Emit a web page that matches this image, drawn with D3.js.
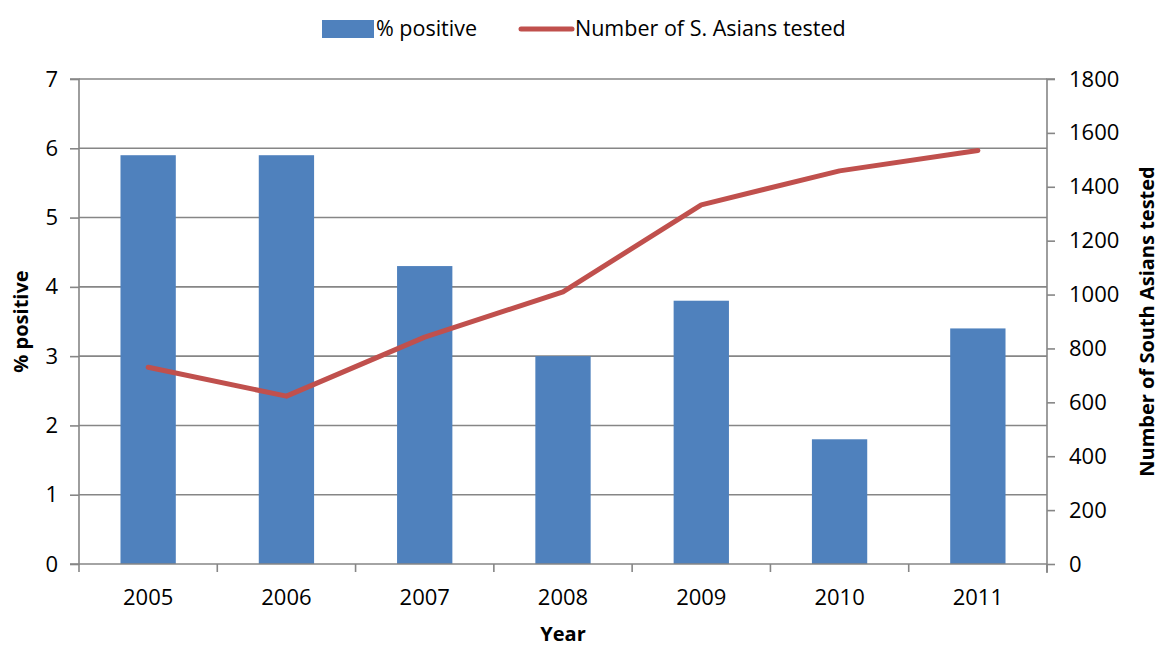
<!DOCTYPE html>
<html>
<head>
<meta charset="utf-8">
<script src="https://cdn.jsdelivr.net/npm/d3@7"></script>
<style>
  html, body { margin: 0; padding: 0; background: #fff; }
  svg { display: block; font-family: "Open Sans", sans-serif; }
</style>
</head>
<body>
<svg id="chart" width="1159" height="646"></svg>
<script>
// Yearly screening data
const years = ["2005", "2006", "2007", "2008", "2009", "2010", "2011"];
const pctPositive = [5.9, 5.9, 4.3, 3.0, 3.8, 1.8, 3.4];
const numberTested = [730, 623, 842, 1010, 1333, 1459, 1535];
const leftTicks = [0, 1, 2, 3, 4, 5, 6, 7];
const rightTicks = [0, 200, 400, 600, 800, 1000, 1200, 1400, 1600, 1800];

const svg = d3.select("#chart");
const margin = { left: 79, right: 1047, top: 79, bottom: 564 };

const x = d3.scaleBand().domain(years).range([margin.left, margin.right]).paddingInner(0.6).paddingOuter(0.3);
const xBand = d3.scaleBand().domain(years).range([margin.left, margin.right]);
const yL = d3.scaleLinear().domain([0, 7]).range([margin.bottom, margin.top]);
const yR = d3.scaleLinear().domain([0, 1800]).range([margin.bottom, margin.top]);

const grey = "#868686";

// horizontal gridlines
svg.append("g").selectAll("line").data(leftTicks.filter(d => d > 0)).join("line")
  .attr("x1", margin.left).attr("x2", margin.right)
  .attr("y1", d => yL(d)).attr("y2", d => yL(d))
  .attr("stroke", grey).attr("stroke-width", 1.6);

// bars
svg.append("g").selectAll("rect").data(years).join("rect")
  .attr("x", d => x(d)).attr("width", x.bandwidth())
  .attr("y", (d, i) => yL(pctPositive[i]))
  .attr("height", (d, i) => yL(0) - yL(pctPositive[i]))
  .attr("fill", "#4f81bd");

// left axis
const gL = svg.append("g").attr("transform", `translate(${margin.left},0)`)
  .call(d3.axisLeft(yL).tickValues(leftTicks).tickSize(9).tickPadding(12).tickFormat(d3.format("d")));
// right axis
const gR = svg.append("g").attr("transform", `translate(${margin.right},0)`)
  .call(d3.axisRight(yR).tickValues(rightTicks).tickSize(8).tickPadding(14).tickFormat(d3.format("d")));
// bottom axis with ticks at category boundaries
const gB = svg.append("g").attr("transform", `translate(0,${margin.bottom})`)
  .call(d3.axisBottom(x).tickSize(0).tickPadding(25));
gB.selectAll(".bound").data(years.concat(["end"])).join("line")
  .attr("class", "bound")
  .attr("x1", (d, i) => i < years.length ? xBand(d) : margin.right)
  .attr("x2", (d, i) => i < years.length ? xBand(d) : margin.right)
  .attr("y1", 0).attr("y2", 8).attr("stroke", grey).attr("stroke-width", 1.6);

[gL, gR, gB].forEach(g => {
  g.select(".domain").attr("stroke", grey).attr("stroke-width", 1.6);
  g.selectAll(".tick line").attr("stroke", grey).attr("stroke-width", 1.6);
  g.selectAll("text").attr("fill", "#000").style("font-size", "22px").style("font-family", "'Open Sans', sans-serif");
});
gL.select(".domain").attr("d", `M-9,${yL(7)}H0V${yL(0)}H-9`);
gR.select(".domain").attr("d", `M8,${yR(1800)}H0V${yR(0) + 9}`);
gB.select(".domain").attr("d", `M${margin.left},0H${margin.right}`);

// line series on the right axis
const line = d3.line()
  .x((d, i) => xBand(years[i]) + xBand.bandwidth() / 2)
  .y(d => yR(d));
svg.append("path").datum(numberTested)
  .attr("d", line).attr("fill", "none")
  .attr("stroke", "#c0504d").attr("stroke-width", 5)
  .attr("stroke-linejoin", "round").attr("stroke-linecap", "round");

// axis titles
svg.append("text").attr("transform", `translate(28,${(margin.top + margin.bottom) / 2}) rotate(-90)`)
  .attr("text-anchor", "middle").style("font-size", "20px").style("font-weight", "bold").text("% positive");
svg.append("text").attr("transform", `translate(1154,${(margin.top + margin.bottom) / 2}) rotate(-90)`)
  .attr("text-anchor", "middle").style("font-size", "20px").style("font-weight", "bold").text("Number of South Asians tested");
svg.append("text").attr("x", (margin.left + margin.right) / 2).attr("y", 641)
  .attr("text-anchor", "middle").style("font-size", "20px").style("font-weight", "bold").text("Year");

// legend
const leg = svg.append("g");
leg.append("rect").attr("x", 322).attr("y", 20).attr("width", 52).attr("height", 18).attr("fill", "#4f81bd");
leg.append("text").attr("x", 376).attr("y", 36).style("font-size", "21.5px").text("% positive");
leg.append("line").attr("x1", 521).attr("x2", 572).attr("y1", 29).attr("y2", 29)
  .attr("stroke", "#c0504d").attr("stroke-width", 5).attr("stroke-linecap", "round");
leg.append("text").attr("x", 575).attr("y", 36).style("font-size", "21.5px").text("Number of S. Asians tested");
</script>
</body>
</html>
